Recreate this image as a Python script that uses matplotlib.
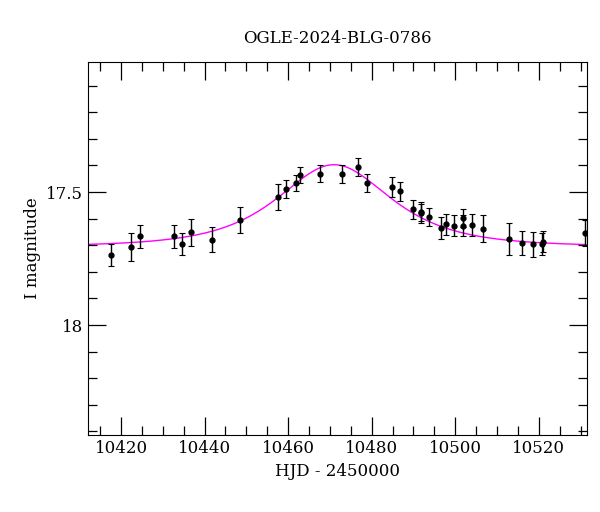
import numpy as np
import matplotlib.pyplot as plt
from matplotlib.ticker import MultipleLocator

# observed photometry (HJD - 2450000, I mag, error)
hjd = [10417.5, 10422.5, 10424.6, 10432.6, 10434.6, 10436.7, 10441.7, 10448.5,
       10457.6, 10459.5, 10461.8, 10462.8, 10467.6, 10472.8, 10476.8, 10478.8,
       10484.8, 10486.7, 10489.8, 10491.7, 10491.8, 10493.7, 10496.7, 10497.9,
       10499.8, 10501.9, 10501.9, 10503.9, 10506.6, 10512.9, 10515.9, 10518.7,
       10520.8, 10520.9, 10531.0]
mag = [17.737, 17.707, 17.667, 17.667, 17.695, 17.652, 17.679, 17.606,
       17.518, 17.488, 17.465, 17.436, 17.432, 17.433, 17.406, 17.465,
       17.480, 17.497, 17.565, 17.580, 17.574, 17.594, 17.635, 17.622,
       17.626, 17.626, 17.597, 17.624, 17.638, 17.677, 17.693, 17.696,
       17.695, 17.686, 17.654]
err = [0.041, 0.053, 0.044, 0.043, 0.040, 0.050, 0.048, 0.048,
       0.048, 0.033, 0.030, 0.030, 0.032, 0.033, 0.033, 0.034,
       0.037, 0.035, 0.035, 0.035, 0.035, 0.035, 0.040, 0.040,
       0.040, 0.040, 0.035, 0.040, 0.050, 0.060, 0.045, 0.047,
       0.040, 0.040, 0.050]

# point-lens model parameters
t0, tE, u0, I_base = 10471.0, 16.2, 1.02, 17.705

t = np.linspace(10412, 10532, 600)
u = np.sqrt(u0**2 + ((t - t0) / tE)**2)
A = (u**2 + 2) / (u * np.sqrt(u**2 + 4))
model = I_base - 2.5 * np.log10(A)

plt.rcParams["font.family"] = "DejaVu Serif"
fig = plt.figure(figsize=(6, 5.12), dpi=100)
ax = fig.add_axes([0.1467, 0.150, 0.8313, 0.729])

ax.plot(t, model, color="magenta", lw=1, zorder=1)
ax.errorbar(hjd, mag, yerr=err, fmt="o", color="black", ms=3.5,
            ecolor="black", elinewidth=1, capsize=2.5, capthick=0.8, zorder=2)

ax.set_xlim(10412.1, 10531.5)
ax.set_ylim(18.414, 17.011)
ax.xaxis.set_major_locator(MultipleLocator(20))
ax.xaxis.set_minor_locator(MultipleLocator(5))
ax.yaxis.set_major_locator(MultipleLocator(0.5))
ax.yaxis.set_minor_locator(MultipleLocator(0.1))
ax.yaxis.set_major_formatter(plt.FuncFormatter(lambda v, p: f"{v:g}"))
ax.tick_params(which="both", direction="in", top=True, right=True, labelsize=12)
ax.tick_params(which="major", length=13, width=0.9)
ax.tick_params(which="minor", length=6.5, width=0.9)

ax.set_xlabel("HJD - 2450000", fontsize=12)
ax.set_ylabel("I magnitude", fontsize=12)
ax.set_title("OGLE-2024-BLG-0786", fontsize=12, pad=14)

fig.savefig("out.png", dpi=100)
